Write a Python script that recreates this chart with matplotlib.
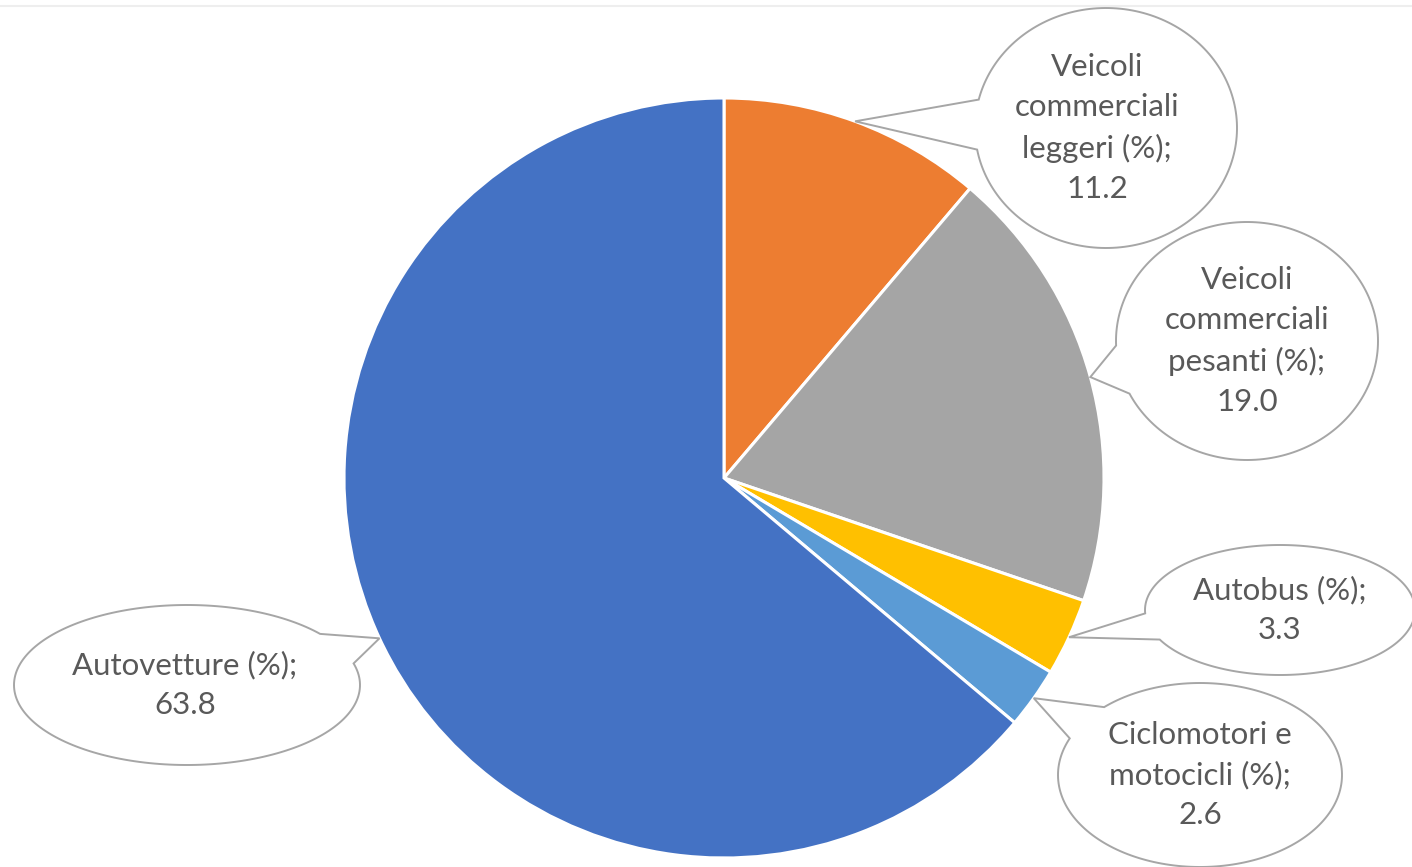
"""Pie chart with ellipse callouts: composizione del parco veicolare."""

import matplotlib.pyplot as plt
import numpy as np
from matplotlib.lines import Line2D
from matplotlib.patches import Polygon

W, H = 1412, 867

categories = [
    "Veicoli\ncommerciali\nleggeri (%)",
    "Veicoli\ncommerciali\npesanti (%)",
    "Autobus (%)",
    "Ciclomotori e\nmotocicli (%)",
    "Autovetture (%)",
]
values = [11.2, 19.0, 3.3, 2.6, 63.8]
colors = ["#ED7D31", "#A5A5A5", "#FFC000", "#5B9BD5", "#4472C4"]

# callout ellipses in pixel coords (cx, cy from top, width, height)
callouts = [
    (1106, 128, 262, 240),
    (1247, 341, 262, 238),
    (1280, 610, 270, 130),
    (1200, 775, 284, 184),
    (187, 685, 346, 160),
]
text_dx = [-9, 0, 0, 0, -2]

PIE_C = (724, H - 478)
PIE_R = 380
TEXT_COLOR = "#595959"
EDGE = "#A6A6A6"


def callout_path(cx, cy, a, b, tip, delta=0.21, n=200):
    """Ellipse outline with a wedge tail ending at tip (all in data coords)."""
    t0 = np.arctan2((tip[1] - cy) / b, (tip[0] - cx) / a)
    t = np.linspace(t0 + delta, t0 + 2 * np.pi - delta, n)
    pts = np.column_stack([cx + a * np.cos(t), cy + b * np.sin(t)])
    return np.vstack([pts, tip])


fig = plt.figure(figsize=(W / 100, H / 100), dpi=100)
ax = fig.add_axes([0, 0, 1, 1])

wedges, _ = ax.pie(
    values,
    colors=colors,
    startangle=90,
    counterclock=False,
    center=PIE_C,
    radius=PIE_R,
    wedgeprops=dict(edgecolor="white", linewidth=2.2),
    frame=True,
)
ax.set_xlim(0, W)
ax.set_ylim(0, H)
ax.set_aspect("equal")
ax.axis("off")

for w, label, val, (cx, cy, cw, ch), dx in zip(wedges, categories, values, callouts, text_dx):
    mid = np.deg2rad((w.theta1 + w.theta2) / 2)
    tip = (PIE_C[0] + PIE_R * np.cos(mid), PIE_C[1] + PIE_R * np.sin(mid))
    cy_d = H - cy
    pts = callout_path(cx, cy_d, cw / 2, ch / 2, tip)
    ax.add_patch(Polygon(pts, closed=True, facecolor="white", edgecolor=EDGE,
                         linewidth=1.4, zorder=5))
    ax.text(cx + dx, cy_d, f"{label};\n{val:.1f}", ha="center", va="center",
            fontsize=22.5, color=TEXT_COLOR, family="Lato", linespacing=1.52, zorder=6)

fig.add_artist(Line2D([0, 1], [1 - 6 / H, 1 - 6 / H], color="#EEEEEE", linewidth=1.5))

fig.savefig("out.png", dpi=100)
